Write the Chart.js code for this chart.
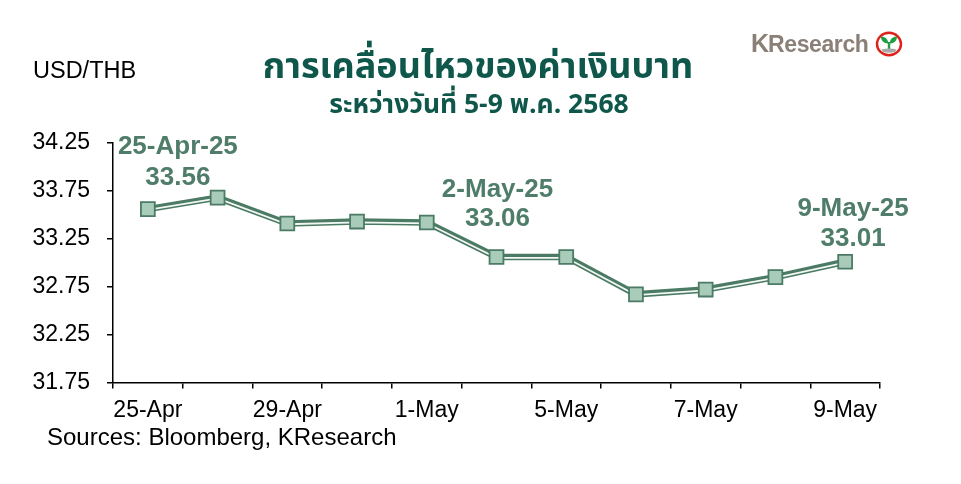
<!DOCTYPE html>
<html>
<head>
<meta charset="utf-8">
<script src="https://cdn.jsdelivr.net/npm/chart.js@4.4.1/dist/chart.umd.min.js"></script>
<style>
  html, body { margin: 0; padding: 0; background: #fff; }
  #wrap { position: relative; width: 961px; height: 484px; overflow: hidden; font-family: "Liberation Sans", Arial, sans-serif; }
  #chartBox { position: absolute; left: 0; top: 0; width: 961px; height: 484px; }
  .t { position: absolute; white-space: nowrap; }
  #title { left: 0; width: 956px; top: 43px; text-align: center; font-size: 36px; font-weight: bold; color: #0e574a; font-family: "Noto Sans Thai", Tahoma, "DejaVu Sans", sans-serif; line-height: 48px; }
  #subtitle { left: 0; width: 958px; top: 87px; text-align: center; font-size: 26.5px; font-weight: bold; color: #0e574a; font-family: "Noto Sans Thai", Tahoma, "DejaVu Sans", sans-serif; line-height: 36px; }
  #unit { left: 33px; top: 56px; font-size: 23.5px; color: #000; line-height: 28px; }
  #source { left: 47px; top: 423px; font-size: 24px; color: #000; line-height: 28px; }
  #logo { left: 751px; top: 29px; font-size: 23px; font-weight: bold; color: #8b8077; line-height: 28px; letter-spacing: -0.4px; }
  #logo b { font-size: 25px; letter-spacing: -1px; }
  #logoIcon { position: absolute; left: 875px; top: 31px; width: 28px; height: 26px; }
</style>
</head>
<body>
<div id="wrap">
  <div id="chartBox"><canvas id="c"></canvas></div>
  <div class="t" id="title">การเคลื่อนไหวของค่าเงินบาท</div>
  <div class="t" id="subtitle">ระหว่างวันที่ 5-9 พ.ค. 2568</div>
  <div class="t" id="unit">USD/THB</div>
  <div class="t" id="source">Sources: Bloomberg, KResearch</div>
  <div class="t" id="logo"><b>K</b>Research</div>
  <svg id="logoIcon" viewBox="0 0 28 26">
    <ellipse cx="14" cy="13" rx="12" ry="11.3" fill="#fff" stroke="#e0201b" stroke-width="2.4"/>
    <path d="M14 19 L14 11" stroke="#1e9e44" stroke-width="2.4"/>
    <path d="M13.2 12.5 C8.5 12.5 6 9.5 6 5.5 C10.5 5.5 13.2 8.5 13.2 12.5 Z" fill="#1e9e44"/>
    <path d="M14.8 12.5 C19.5 12.5 22 9.5 22 5.5 C17.5 5.5 14.8 8.5 14.8 12.5 Z" fill="#1e9e44"/>
    <path d="M6.5 18.5 Q14 16.5 21.5 18.5 L20 21 Q14 22.5 8 21 Z" fill="#a8a8a8"/>
  </svg>
</div>
<script>
// ---- data ----
const categories = ['25-Apr-25','28-Apr-25','29-Apr-25','30-Apr-25','1-May-25','2-May-25','5-May-25','6-May-25','7-May-25','8-May-25','9-May-25'];
const tickLabels = ['25-Apr','','29-Apr','','1-May','','5-May','','7-May','','9-May'];
const usdThb = [33.56, 33.68, 33.41, 33.43, 33.42, 33.06, 33.06, 32.67, 32.72, 32.85, 33.01];
const yTicks = [31.75, 32.25, 32.75, 33.25, 33.75, 34.25];
const annotatedIdx = [0, 5, 10];

// ---- styles ----
const LINE = '#4b7b64';
const FILL = '#a9cbb9';
const ANNO = '#4f7d69';
const annoOffsets = { 0: {dx: 30, dy1: -62, dy2: -31}, 5: {dx: 1, dy1: -67, dy2: -38}, 10: {dx: 8, dy1: -53, dy2: -23} };

const whiteShift = {
  id: 'whiteShift',
  beforeDatasetDraw(chart, args) {
    if (args.index === 1) { chart.ctx.save(); chart.ctx.translate(0, 0.8); }
  },
  afterDatasetDraw(chart, args) {
    if (args.index === 1) { chart.ctx.restore(); }
  }
};

const annoPlugin = {
  id: 'anno',
  afterDatasetsDraw(chart) {
    const meta = chart.getDatasetMeta(2);
    const ctx = chart.ctx;
    ctx.save();
    ctx.font = 'bold 26px "Liberation Sans", Arial, sans-serif';
    ctx.fillStyle = ANNO;
    ctx.textAlign = 'center';
    ctx.textBaseline = 'middle';
    annotatedIdx.forEach(i => {
      const p = meta.data[i];
      const o = annoOffsets[i];
      ctx.fillText(categories[i], p.x + o.dx, p.y + o.dy1);
      ctx.fillText(usdThb[i].toFixed(2), p.x + o.dx, p.y + o.dy2);
    });
    ctx.restore();
  }
};

new Chart(document.getElementById('c'), {
  type: 'line',
  data: {
    labels: categories,
    datasets: [
      { data: usdThb, borderColor: LINE, borderWidth: 6.5, pointRadius: 0, fill: false, tension: 0, order: 3 },
      { data: usdThb, borderColor: '#f4f8f5', borderWidth: 1.8, pointRadius: 0, fill: false, tension: 0, order: 2 },
      { data: usdThb, showLine: false, pointStyle: 'rect', pointRadius: 9.8, pointBackgroundColor: FILL, pointBorderColor: LINE, pointBorderWidth: 1.8, order: 1 }
    ]
  },
  options: {
    responsive: true,
    maintainAspectRatio: false,
    animation: false,
    layout: { padding: { left: 0, top: 143, right: 81, bottom: 0 } },
    plugins: { legend: { display: false }, tooltip: { enabled: false }, title: { display: false } },
    scales: {
      x: {
        offset: true,
        grid: { offset: true, drawOnChartArea: false, drawTicks: true, tickLength: 6, color: '#000', lineWidth: 1.5 },
        border: { color: '#000', width: 1.5 },
        ticks: {
          autoSkip: false, maxRotation: 0, padding: 8, color: '#000',
          font: { family: '"Liberation Sans", Arial, sans-serif', size: 23 },
          callback: (v, i) => tickLabels[i]
        },
        afterFit(s) { s.height = 101.5; }
      },
      y: {
        min: 31.75, max: 34.25,
        afterBuildTicks(s) { s.ticks = yTicks.map(v => ({ value: v })); },
        grid: { drawOnChartArea: false, drawTicks: true, tickLength: 6, color: '#000', lineWidth: 1.5 },
        border: { color: '#000', width: 1.5 },
        ticks: {
          padding: 17, color: '#000',
          font: { family: '"Liberation Sans", Arial, sans-serif', size: 23 },
          callback: v => v.toFixed(2)
        },
        afterFit(s) { s.width = 113; }
      }
    }
  },
  plugins: [whiteShift, annoPlugin]
});
</script>
</body>
</html>
